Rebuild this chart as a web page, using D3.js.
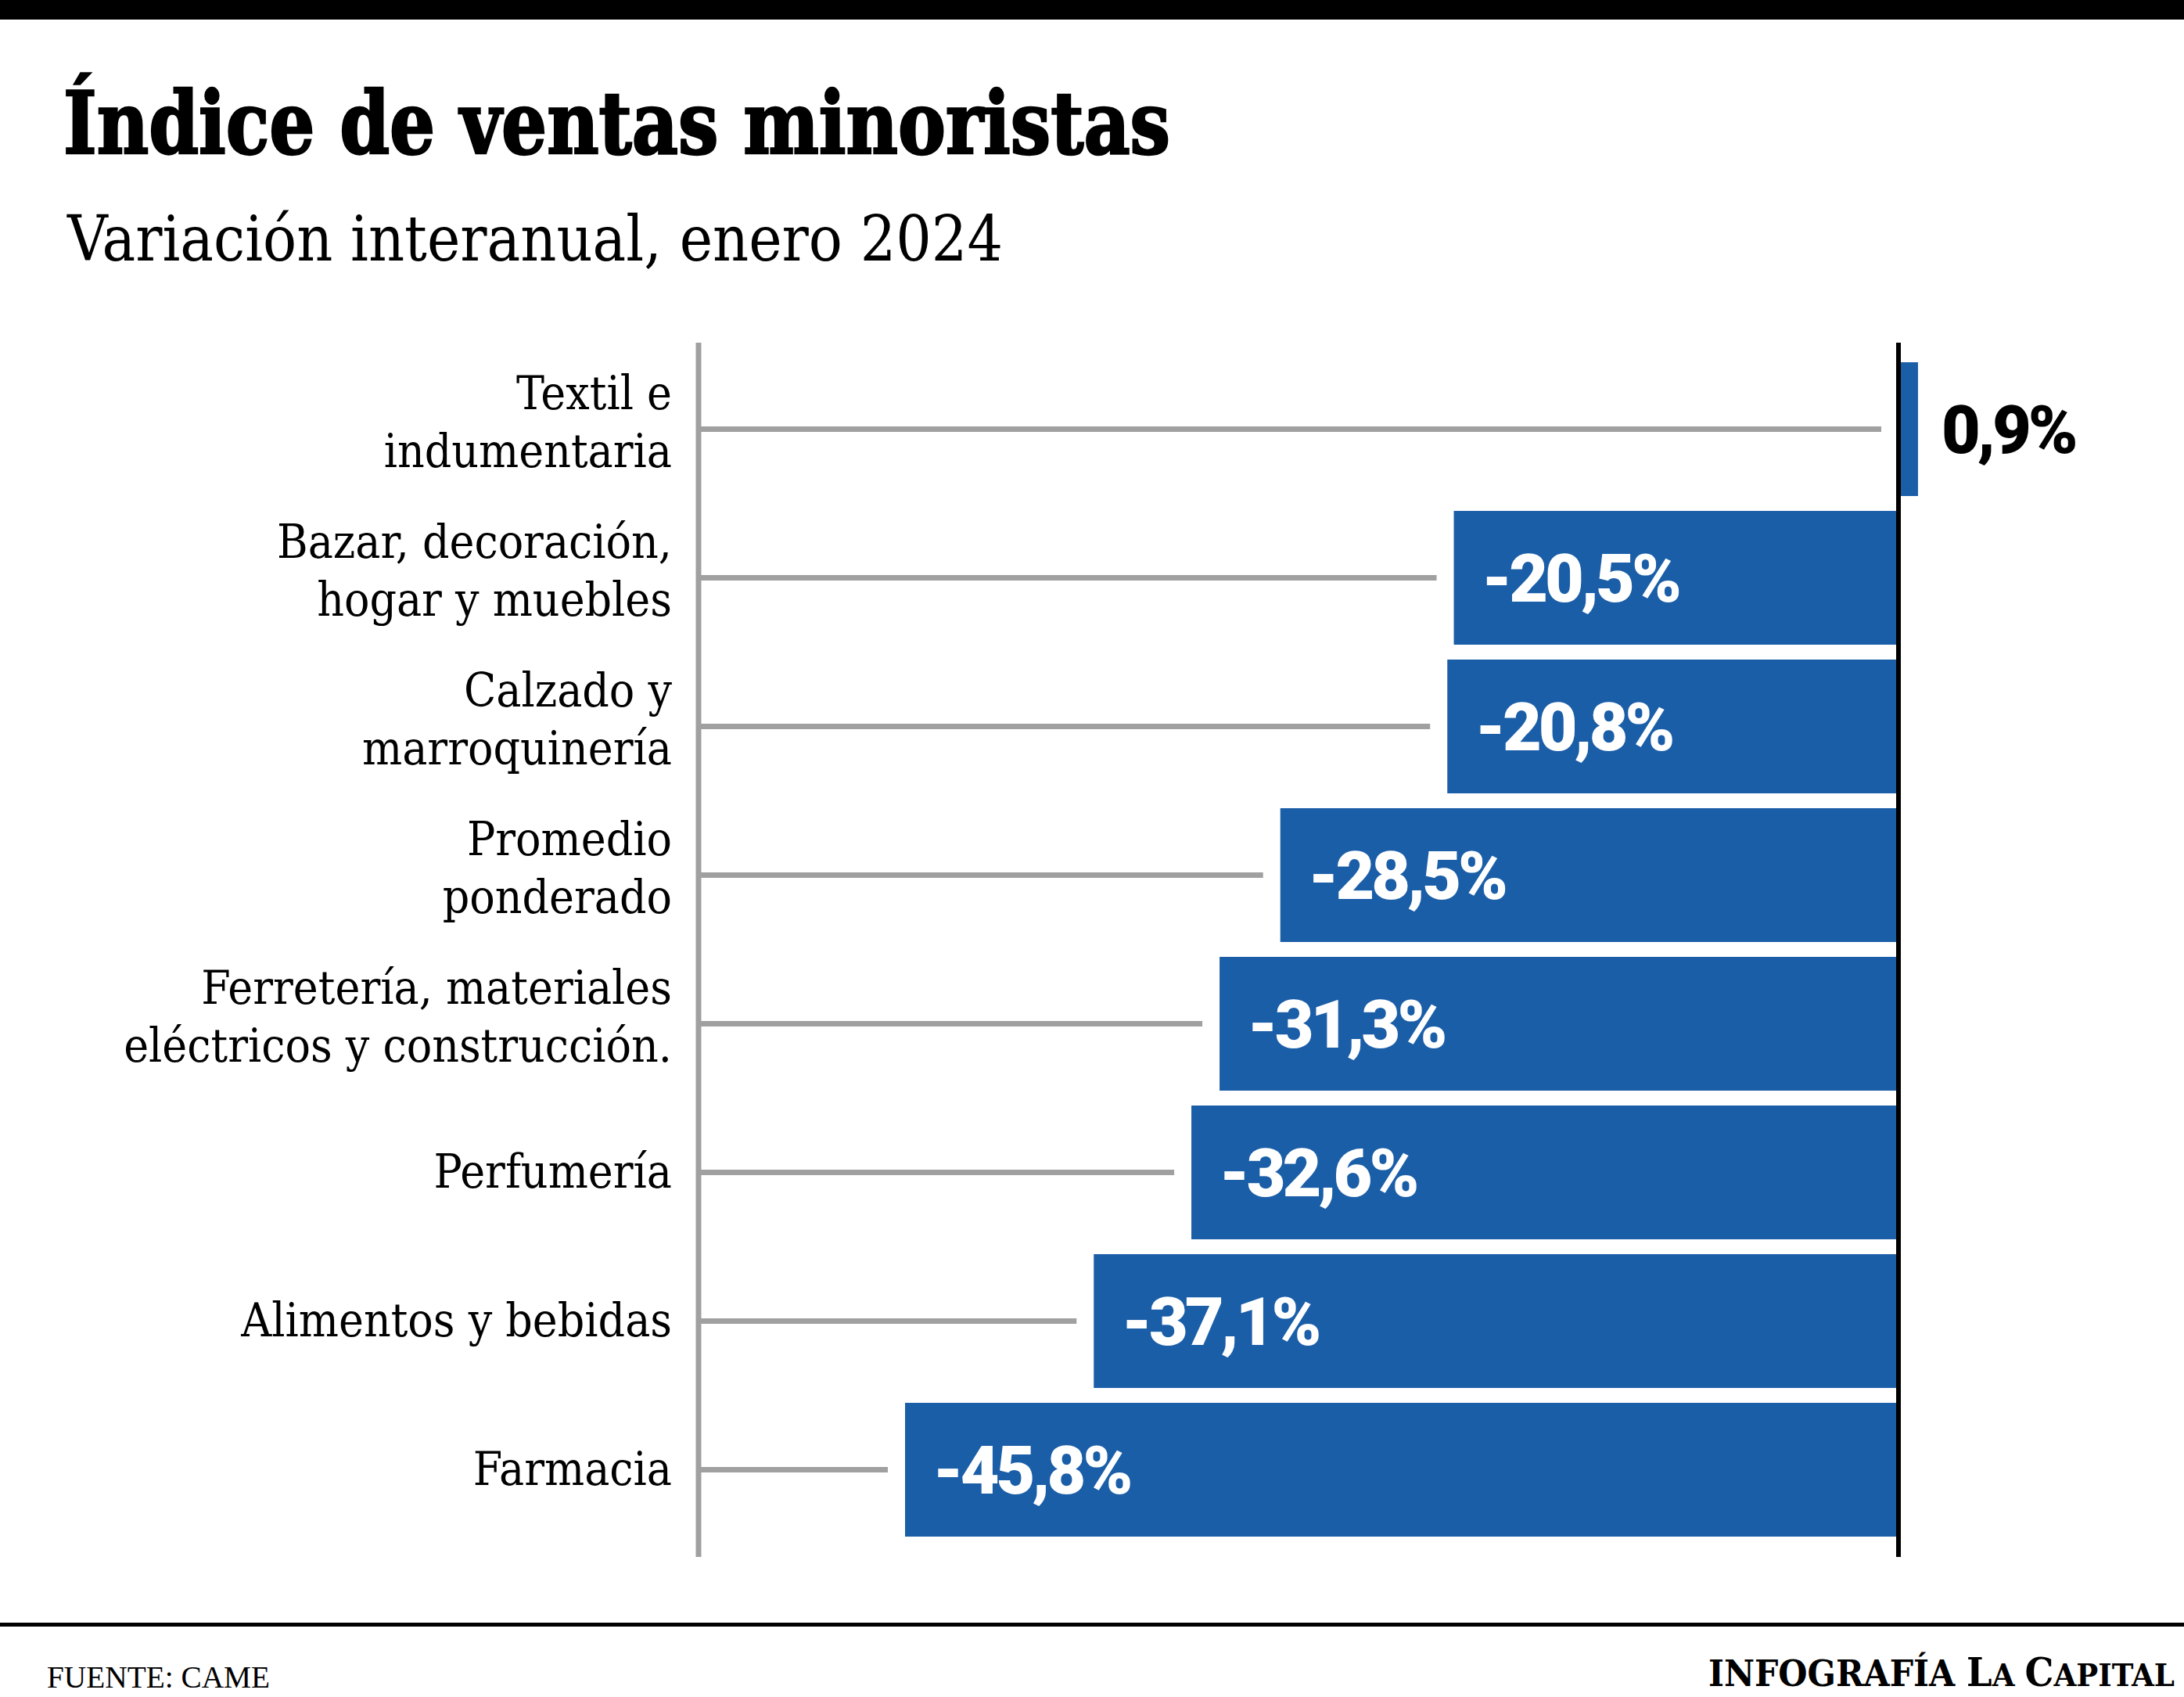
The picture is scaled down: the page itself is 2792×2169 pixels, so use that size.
<!DOCTYPE html>
<html>
<head>
<meta charset="utf-8">
<script src="https://cdn.jsdelivr.net/npm/d3@7"></script>
<style>
  html, body { margin: 0; padding: 0; background: #fff; }
  svg { display: block; }
</style>
</head>
<body>
<script>
const categories = [
  "Textil e indumentaria",
  "Bazar, decoración, hogar y muebles",
  "Calzado y marroquinería",
  "Promedio ponderado",
  "Ferretería, materiales eléctricos y construcción.",
  "Perfumería",
  "Alimentos y bebidas",
  "Farmacia"
];
const labelLines = [
  ["Textil e", "indumentaria"],
  ["Bazar, decoración,", "hogar y muebles"],
  ["Calzado y", "marroquinería"],
  ["Promedio", "ponderado"],
  ["Ferretería, materiales", "eléctricos y construcción."],
  ["Perfumería"],
  ["Alimentos y bebidas"],
  ["Farmacia"]
];
const values = [0.9, -20.5, -20.8, -28.5, -31.3, -32.6, -37.1, -45.8];

const titleText = "Índice de ventas minoristas";
const subtitleText = "Variación interanual, enero 2024";
const sourceText = "FUENTE: CAME";

const W = 2792, H = 2169;
const BLUE = "#1b5ea8", GRAY = "#a0a0a0";
const serif = "'DejaVu Serif Condensed', 'DejaVu Serif', serif";
const sans = "Roboto, 'Liberation Sans', sans-serif";

const esLocale = d3.formatLocale({decimal: ",", thousands: ".", grouping: [3], currency: ["$", ""], minus: "-"});
const fmt = v => esLocale.format(".1f")(v) + "%";

const svg = d3.select("body").append("svg")
  .attr("width", W).attr("height", H).attr("viewBox", `0 0 ${W} ${H}`);

// top band
svg.append("rect").attr("x", 0).attr("y", 0).attr("width", W).attr("height", 25).attr("fill", "#000");

// title & subtitle
svg.append("text").attr("x", 81).attr("y", 196)
  .attr("font-family", serif).attr("font-weight", 900).attr("font-size", 110)
  .attr("textLength", 1415).attr("lengthAdjust", "spacingAndGlyphs")
  .attr("fill", "#000").attr("stroke", "#000").attr("stroke-width", 2.5)
  .text(titleText);
svg.append("text").attr("x", 86).attr("y", 333)
  .attr("font-family", serif).attr("font-weight", 400).attr("font-size", 80)
  .attr("textLength", 1196).attr("lengthAdjust", "spacingAndGlyphs")
  .attr("fill", "#000").text(subtitleText);

// scales
const x = d3.scaleLinear().domain([-45.8, 0]).range([1157, 2427]);
const y = d3.scaleBand().domain(categories).range([453.5, 1973.5]).paddingInner(0.1).paddingOuter(0.05);

const axisTop = 438, axisBottom = 1990, axisX = 893;

// connector lines
const g = svg.append("g");
g.selectAll("line.conn").data(categories).join("line")
  .attr("class", "conn")
  .attr("x1", axisX)
  .attr("x2", (d, i) => Math.min(x(values[i]), x(0)) - 22)
  .attr("y1", d => y(d) + y.bandwidth() / 2)
  .attr("y2", d => y(d) + y.bandwidth() / 2)
  .attr("stroke", GRAY).attr("stroke-width", 7);

// left axis line
svg.append("line").attr("x1", axisX).attr("x2", axisX).attr("y1", axisTop).attr("y2", axisBottom)
  .attr("stroke", GRAY).attr("stroke-width", 7);

// bars
g.selectAll("rect.bar").data(categories).join("rect")
  .attr("class", "bar")
  .attr("x", (d, i) => Math.min(x(values[i]), x(0)))
  .attr("width", (d, i) => Math.abs(x(values[i]) - x(0)))
  .attr("y", d => y(d))
  .attr("height", y.bandwidth())
  .attr("fill", BLUE);

// zero line
svg.append("line").attr("x1", x(0)).attr("x2", x(0)).attr("y1", axisTop).attr("y2", axisBottom)
  .attr("stroke", "#000").attr("stroke-width", 6);

// category labels
const lab = svg.append("g");
categories.forEach((c, i) => {
  const cy = y(c) + y.bandwidth() / 2;
  const lines = labelLines[i];
  const t = lab.append("text")
    .attr("text-anchor", "end")
    .attr("font-family", serif).attr("font-size", 60).attr("fill", "#000");
  if (lines.length === 2) {
    t.append("tspan").attr("x", 859).attr("y", cy - 26).text(lines[0]);
    t.append("tspan").attr("x", 859).attr("y", cy + 48).text(lines[1]);
  } else {
    t.append("tspan").attr("x", 859).attr("y", cy + 19).text(lines[0]);
  }
});

// value labels
svg.append("g").selectAll("text").data(categories).join("text")
  .attr("x", (d, i) => values[i] < 0 ? x(values[i]) + 36 : x(values[i]) + 30)
  .attr("y", d => y(d) + y.bandwidth() / 2 + 30)
  .attr("font-family", sans).attr("font-weight", 900).attr("font-size", 86)
  .attr("letter-spacing", -4)
  .attr("fill", (d, i) => values[i] < 0 ? "#fff" : "#000")
  .text((d, i) => fmt(values[i]));

// bottom rule
svg.append("rect").attr("x", 0).attr("y", 2074).attr("width", W).attr("height", 5).attr("fill", "#000");

// footer
svg.append("text").attr("x", 60).attr("y", 2157)
  .attr("font-family", "'Liberation Serif', serif").attr("font-size", 40)
  .attr("textLength", 285).attr("lengthAdjust", "spacingAndGlyphs")
  .attr("fill", "#000").text(sourceText);

const cred = svg.append("text").attr("x", 2184).attr("y", 2155)
  .attr("font-family", serif).attr("font-weight", 900)
  .attr("textLength", 596).attr("lengthAdjust", "spacingAndGlyphs")
  .attr("fill", "#000");
cred.append("tspan").attr("font-size", 46).text("INFOGRAFÍA ");
cred.append("tspan").attr("font-size", 50).text("L");
cred.append("tspan").attr("font-size", 40).text("A ");
cred.append("tspan").attr("font-size", 50).text("C");
cred.append("tspan").attr("font-size", 40).text("APITAL");
</script>
</body>
</html>
